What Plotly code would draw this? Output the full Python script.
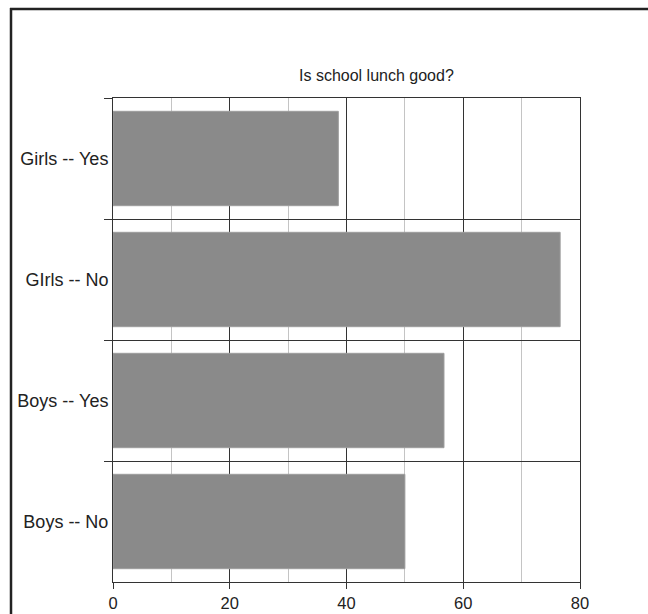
import plotly.graph_objects as go

# Data (top-to-bottom order)
categories = ["Girls -- Yes", "GIrls -- No", "Boys -- Yes", "Boys -- No"]
values = [38.6, 76.6, 56.7, 50.0]
x_ticks = [0, 20, 40, 60, 80]
title_text = "Is school lunch good?"

W, H = 648, 614
L, R, T, B = 113, 580, 98, 582  # plot area in px

fig = go.Figure(
    go.Bar(
        x=values,
        y=categories,
        orientation="h",
        marker=dict(color="#8a8a8a", line=dict(color="#9e9e9e", width=1)),
        hoverinfo="skip",
    )
)

axis_color = "#333333"
font_family = "Liberation Sans, Arial, sans-serif"

fig.update_layout(
    width=W,
    height=H,
    margin=dict(l=L, r=W - R, t=T, b=H - B, pad=0, autoexpand=False),
    paper_bgcolor="white",
    plot_bgcolor="white",
    bargap=0.22,
    showlegend=False,
    font=dict(family=font_family, size=16, color="#222222"),
)

fig.update_xaxes(
    range=[0, 80],
    tickvals=x_ticks,
    ticktext=[str(v) for v in x_ticks],
    ticks="outside",
    ticklen=6,
    tickcolor=axis_color,
    tickwidth=1,
    automargin=False,
    showgrid=True,
    gridcolor=axis_color,
    gridwidth=1,
    minor=dict(dtick=10, showgrid=True, gridcolor="#c4c4c4", gridwidth=1, ticks=""),
    showline=True,
    linecolor=axis_color,
    linewidth=1,
    mirror=True,
    zeroline=False,
    tickfont=dict(size=16.5),
    fixedrange=True,
)

fig.update_yaxes(
    type="category",
    categoryorder="array",
    categoryarray=categories,
    range=[3.5, -0.5],
    tickson="boundaries",
    ticks="outside",
    ticklen=8,
    tickcolor=axis_color,
    tickwidth=1,
    automargin=False,
    showgrid=True,
    gridcolor=axis_color,
    gridwidth=1,
    showline=True,
    linecolor=axis_color,
    linewidth=1,
    mirror=True,
    zeroline=False,
    tickfont=dict(size=18),
    fixedrange=True,
)

pw, ph = R - L, B - T
def px_x(px):
    return (px - L) / pw
def px_y(py):
    return (B - py) / ph

# Outer frame (left and top edges)
frame_color = "#222222"
fig.add_shape(type="line", xref="paper", yref="paper",
              x0=px_x(10), x1=px_x(648), y0=px_y(9), y1=px_y(9),
              line=dict(color=frame_color, width=2.5))
fig.add_shape(type="line", xref="paper", yref="paper",
              x0=px_x(11), x1=px_x(11), y0=px_y(8), y1=px_y(614),
              line=dict(color=frame_color, width=2.5))

fig.add_annotation(
    text=title_text,
    xref="paper", yref="paper",
    x=px_x(376), y=px_y(75),
    xanchor="center", yanchor="middle",
    showarrow=False,
    font=dict(size=16, color="#222222", family=font_family),
)

page_css = (
    "document.documentElement.style.margin='0';"
    "document.documentElement.style.overflow='hidden';"
    "document.body.style.margin='0';"
    "document.body.style.overflow='hidden';"
)

fig.write_html("out.html", config={"displayModeBar": False}, post_script=page_css)
